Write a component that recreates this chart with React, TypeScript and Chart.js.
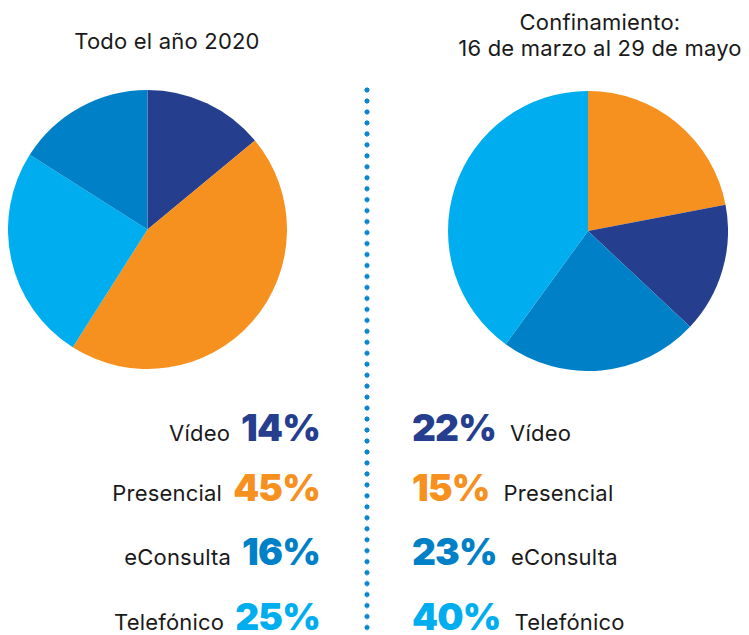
import React, { useEffect, useRef } from "react";
import { Chart, registerables } from "chart.js";

Chart.register(...registerables);

// ---- Data ----
const categorias = ["Vídeo", "Presencial", "eConsulta", "Telefónico"];
const valores2020 = [14, 45, 16, 25];
const valoresConfinamiento = [22, 15, 23, 40];
const titulo2020 = ["Todo el año 2020"];
const tituloConfinamiento = ["Confinamiento:", "16 de marzo al 29 de mayo"];

// colours per category (used for the big numbers)
const AZUL_OSCURO = "#253F8E";
const NARANJA = "#F6901E";
const AZUL_MEDIO = "#0080C6";
const CELESTE = "#00ADEE";
const coloresCategorias = [AZUL_OSCURO, NARANJA, AZUL_MEDIO, CELESTE];
// slice order (clockwise from top) and slice colours as in the original graphic
const ordenPie2020 = [0, 1, 3, 2];
const coloresPie2020 = [AZUL_OSCURO, NARANJA, AZUL_MEDIO, CELESTE];
const ordenPieConfinamiento = [0, 1, 2, 3];
const coloresPieConfinamiento = [NARANJA, AZUL_OSCURO, AZUL_MEDIO, CELESTE];

const TEXT_FONT = "Inter, 'Open Sans', sans-serif";
const NUM_FONT = "Inter, 'Open Sans', sans-serif";

function PieCanvas(props: {
  valores: number[];
  orden: number[];
  colores: string[];
  left: number;
  top: number;
  size: number;
}) {
  const ref = useRef<HTMLCanvasElement | null>(null);
  useEffect(() => {
    if (!ref.current) return;
    const chart = new Chart(ref.current, {
      type: "pie",
      data: {
        labels: props.orden.map((i) => categorias[i]),
        datasets: [
          {
            data: props.orden.map((i) => props.valores[i]),
            backgroundColor: props.orden.map((i) => props.colores[i]),
            borderWidth: 0,
          },
        ],
      },
      options: {
        responsive: false,
        maintainAspectRatio: false,
        animation: false,
        layout: { padding: 0 },
        plugins: {
          legend: { display: false },
          tooltip: { enabled: false },
          title: { display: false },
        },
      },
    });
    return () => chart.destroy();
  }, []);
  return (
    <canvas
      ref={ref}
      width={props.size}
      height={props.size}
      style={{
        position: "absolute",
        left: props.left,
        top: props.top,
        width: props.size,
        height: props.size,
      }}
    />
  );
}

const baselines = [441, 501, 565, 630];

export default function App() {
  useEffect(() => {
    document.body.style.margin = "0";
  }, []);

  const numStyle = (i: number): React.CSSProperties => ({
    fontFamily: NUM_FONT,
    fontWeight: 900,
    fontSize: 37,
    lineHeight: "45px",
    color: coloresCategorias[i],
    letterSpacing: "-0.8px",
  });
  const labelStyle: React.CSSProperties = {
    fontFamily: TEXT_FONT,
    fontSize: 22,
    fontWeight: 400,
    color: "#1a1a1a",
    letterSpacing: "0.2px",
  };

  return (
    <div
      style={{
        position: "fixed",
        left: 0,
        top: 0,
        width: 749,
        height: 635,
        background: "#ffffff",
        overflow: "hidden",
      }}
    >
      {/* titles */}
      <div
        style={{
          position: "absolute",
          left: 47,
          width: 240,
          top: 28,
          textAlign: "center",
          ...labelStyle,
          lineHeight: "26px",
        }}
      >
        {titulo2020.map((t) => (
          <div key={t}>{t}</div>
        ))}
      </div>
      <div
        style={{
          position: "absolute",
          left: 440,
          width: 320,
          top: 9,
          textAlign: "center",
          ...labelStyle,
          lineHeight: "26px",
        }}
      >
        {tituloConfinamiento.map((t) => (
          <div key={t}>{t}</div>
        ))}
      </div>

      <PieCanvas
        valores={valores2020}
        orden={ordenPie2020}
        colores={coloresPie2020}
        left={8}
        top={90}
        size={279}
      />
      <PieCanvas
        valores={valoresConfinamiento}
        orden={ordenPieConfinamiento}
        colores={coloresPieConfinamiento}
        left={448}
        top={91}
        size={280}
      />

      {/* dotted divider */}
      <div
        style={{
          position: "absolute",
          left: 364,
          top: 87,
          width: 6,
          height: 560,
          backgroundImage:
            "radial-gradient(circle at 3px 3px, #0a86d0 2.3px, rgba(255,255,255,0) 2.8px)",
          backgroundSize: "6px 10.97px",
          backgroundRepeat: "repeat-y",
        }}
      />

      {/* left rows */}
      {categorias.map((c, i) => (
        <div
          key={"l" + c}
          style={{
            position: "absolute",
            right: 749 - 320,
            top: baselines[i] - 36,
            height: 50,
            display: "flex",
            alignItems: "baseline",
            whiteSpace: "nowrap",
          }}
        >
          <span style={labelStyle}>{c}</span>
          <span style={{ width: 11 }} />
          <span style={numStyle(i)}>{valores2020[i]}%</span>
        </div>
      ))}

      {/* right rows */}
      {categorias.map((c, i) => (
        <div
          key={"r" + c}
          style={{
            position: "absolute",
            left: 412,
            top: baselines[i] - 36,
            height: 50,
            display: "flex",
            alignItems: "baseline",
            whiteSpace: "nowrap",
          }}
        >
          <span style={numStyle(i)}>{valoresConfinamiento[i]}%</span>
          <span style={{ width: 14 }} />
          <span style={labelStyle}>{c}</span>
        </div>
      ))}
    </div>
  );
}
